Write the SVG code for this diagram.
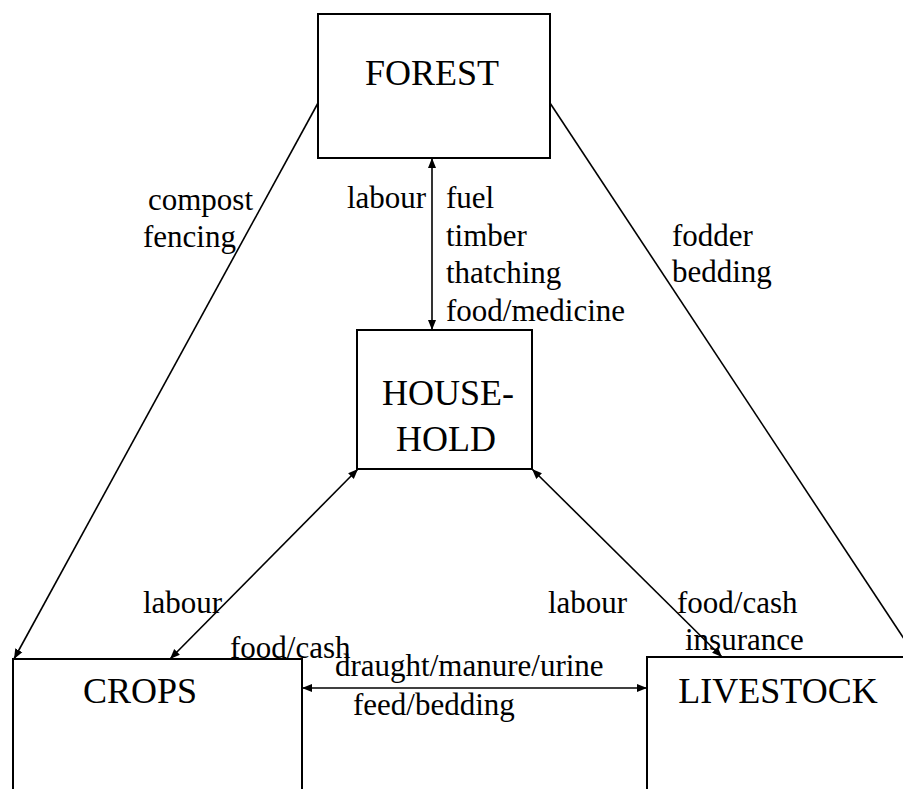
<svg xmlns="http://www.w3.org/2000/svg" width="903" height="789" viewBox="0 0 903 789">
  <style>
    .box { fill: #fff; stroke: #000; stroke-width: 2; }
    .title { font-size: 36px; fill: #000; text-anchor: middle; }
    .lbl { font-size: 31px; fill: #000; }
    .link { stroke: #000; stroke-width: 1.6; fill: none; }
  </style>
  <defs>
    <marker id="head" viewBox="0 0 10 10" refX="10" refY="5" markerWidth="10" markerHeight="10" markerUnits="userSpaceOnUse" orient="auto-start-reverse">
      <path d="M0,1 L10,5 L0,9 Z" fill="#000"/>
    </marker>
  </defs>
  <rect width="903" height="789" fill="#fff"/>

  <g id="connectors">
    <!-- forest to crops -->
    <line class="link" x1="318" y1="103" x2="14" y2="659" marker-end="url(#head)"/>
    <!-- forest to livestock (runs off the right edge) -->
    <line class="link" x1="550" y1="103" x2="916" y2="657" marker-end="url(#head)"/>
    <!-- forest <-> household -->
    <line class="link" x1="432" y1="158" x2="432" y2="330" marker-start="url(#head)" marker-end="url(#head)"/>
    <!-- household <-> crops -->
    <line class="link" x1="358" y1="469" x2="170" y2="659" marker-start="url(#head)" marker-end="url(#head)"/>
    <!-- household <-> livestock -->
    <line class="link" x1="532" y1="469" x2="722" y2="657" marker-start="url(#head)" marker-end="url(#head)"/>
    <!-- crops <-> livestock -->
    <line class="link" x1="302" y1="688" x2="647" y2="688" marker-start="url(#head)" marker-end="url(#head)"/>
  </g>

  <g font-family="'Liberation Serif', 'Times New Roman', Tinos, 'DejaVu Serif', serif">
    <g id="forest">
      <rect class="box" x="318" y="14" width="232" height="144"/>
      <text class="title" x="432" y="85">FOREST</text>
    </g>

    <g id="household">
      <rect class="box" x="357" y="330" width="175" height="139"/>
      <text class="title" x="448" y="405">HOUSE-</text>
      <text class="title" x="446" y="451">HOLD</text>
    </g>

    <g id="crops">
      <rect class="box" x="13" y="659" width="289" height="160"/>
      <text class="title" x="140" y="703">CROPS</text>
    </g>

    <g id="livestock">
      <rect class="box" x="647" y="657" width="280" height="160"/>
      <text class="title" x="778" y="703">LIVESTOCK</text>
    </g>

    <g id="labels">
      <text class="lbl" x="148" y="210">compost</text>
      <text class="lbl" x="143" y="247">fencing</text>

      <text class="lbl" x="347" y="208">labour</text>
      <text class="lbl" x="446" y="208">fuel</text>
      <text class="lbl" x="446" y="246">timber</text>
      <text class="lbl" x="446" y="283">thatching</text>
      <text class="lbl" x="446" y="321">food/medicine</text>

      <text class="lbl" x="672" y="246">fodder</text>
      <text class="lbl" x="672" y="282">bedding</text>

      <text class="lbl" x="143" y="613">labour</text>
      <text class="lbl" x="230" y="658">food/cash</text>

      <text class="lbl" x="548" y="613">labour</text>
      <text class="lbl" x="677" y="613">food/cash</text>
      <text class="lbl" x="685" y="650">insurance</text>

      <text class="lbl" x="335" y="676">draught/manure/urine</text>
      <text class="lbl" x="353" y="715">feed/bedding</text>
    </g>
  </g>
</svg>
